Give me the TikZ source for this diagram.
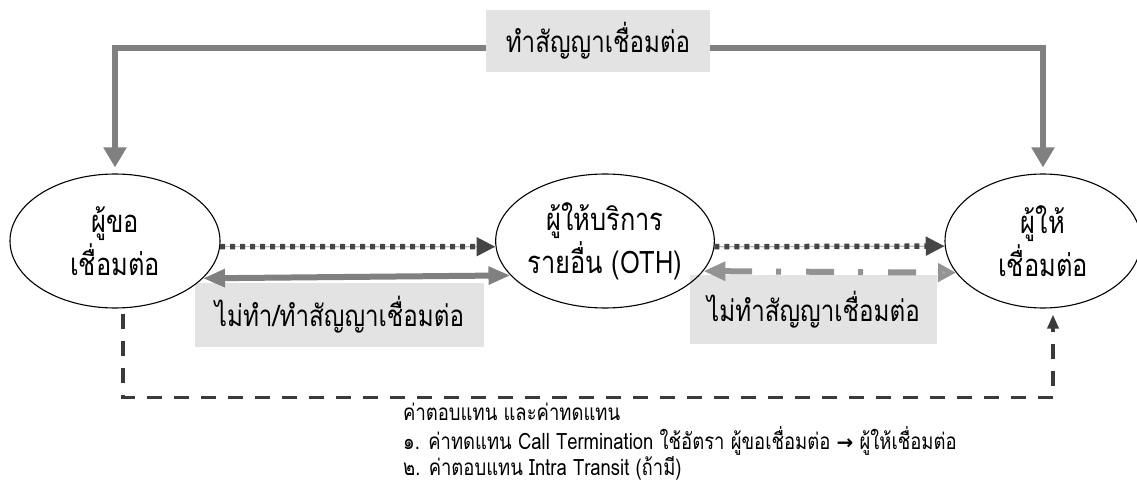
\documentclass[tikz,border=0pt]{standalone}
\usepackage{fontspec}
\setmainfont[Script=Thai]{Loma}
\newfontfamily\thaiN[Script=Thai,FakeStretch=0.82]{Loma}
\newfontfamily\symfont{DejaVu Sans}
\usetikzlibrary{arrows.meta,shapes.geometric,calc}
\definecolor{boxgray}{HTML}{E3E3E3}
\definecolor{linegray}{HTML}{808080}
\definecolor{dotgray}{HTML}{454545}
\definecolor{dashgray}{HTML}{3A3A3A}
\tikzset{
  party/.style={ellipse, draw=black, line width=1.1pt, minimum width=210pt, minimum height=134pt,
    inner sep=0pt, align=center, font=\thaiN\fontsize{31}{43}\selectfont},
  labelbox/.style={fill=boxgray, inner sep=0pt, font=\thaiN\fontsize{29.5}{32}\selectfont},
  toparrow/.style={draw=linegray, line width=6.5pt, -{Triangle[length=20pt,width=22pt]}, shorten >=6pt},
  dotarrow/.style={draw=dotgray, line width=5.5pt, dash pattern=on 5pt off 5pt, -{Triangle[length=19pt,width=18pt]}},
  dotbase/.style={draw=gray!55, line width=1.4pt},
  solidboth/.style={draw=linegray, line width=6pt, {Triangle[length=22pt,width=17pt]}-{Triangle[length=22pt,width=17pt]}},
  dashdotboth/.style={draw=linegray!85, line width=6pt, dash pattern=on 28pt off 24pt on 5pt off 25pt,
    {Triangle[length=22pt,width=18pt]}-{Triangle[length=18pt,width=18pt,fill=linegray!70]}},
  paydash/.style={draw=dashgray, line width=3.5pt, dash pattern=on 15pt off 12pt,
    -{Triangle[length=14pt,width=11pt]}},
  notes/.style={anchor=west, inner sep=0pt, font=\thaiN\fontsize{22.5}{24}\selectfont}
}
\begin{document}
\begin{tikzpicture}[x=1pt,y=-1pt]
\useasboundingbox (0,0) rectangle (1137,497);
% label boxes (behind arrows)
\node[labelbox, minimum width=224pt, minimum height=62pt] (T) at (598,41) {ทำสัญญาเชื่อมต่อ};
\node[labelbox, minimum width=289pt, minimum height=64pt] (B1) at (339.5,315) {ไม่ทำ/ทำสัญญาเชื่อมต่อ};
\node[labelbox, minimum width=247pt, minimum height=69pt] (B2) at (813.5,309.5) {ไม่ทำสัญญาเชื่อมต่อ};
% parties
\node[party] (L) at (115,241) {ผู้ขอ\\เชื่อมต่อ};
\node[party] (M) at (605,241) {ผู้ให้บริการ\\รายอื่น (OTH)};
\node[party, minimum width=196pt] (R) at (1043,241) {ผู้ให้\\เชื่อมต่อ};
% top contract arrows
\draw[toparrow] ([yshift=-7pt]T.west) -| (L.north);
\draw[toparrow] ([yshift=-7pt]T.east) -| (R.north);
% dotted traffic arrows
\draw[dotbase] (L.-3.8) -- (M.183.8);
\draw[dotarrow] (L.-3.8) -- (M.183.8);
\draw[dotbase] (M.-3.8) -- (R.183.9);
\draw[dotarrow] (M.-3.8) -- (R.183.9);
% two-way arrows
\draw[solidboth] (L.-23.8) -- (M.-160.6);
\draw[dashdotboth] (M.-17.9) -- (R.-160.4);
% payment route
\draw[paydash] ([xshift=8pt,yshift=-5pt]L.south) -- ++(0,84) coordinate (C) -| ([xshift=10pt,yshift=-6pt]R.south);
% notes
\node[notes] (N1) at (403,412) {ค่าตอบแทน และค่าทดแทน};
\node[notes] (N2) at (403,441) {๑. ค่าทดแทน Call Termination ใช้อัตรา ผู้ขอเชื่อมต่อ {\symfont\bfseries\fontsize{20}{24}\selectfont →} ผู้ให้เชื่อมต่อ};
\node[notes] (N3) at (403,468) {๒. ค่าตอบแทน Intra Transit (ถ้ามี)};
\end{tikzpicture}
\end{document}
